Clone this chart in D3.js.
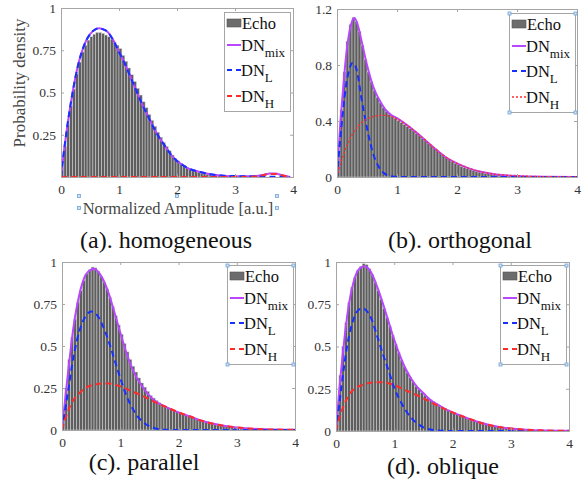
<!DOCTYPE html>
<html>
<head>
<meta charset="utf-8">
<script src="https://cdn.jsdelivr.net/npm/d3@7"></script>
<style>
  body { margin: 0; background: #fff; }
  svg, svg text { font-family: "Liberation Serif", "Times New Roman", serif; }
</style>
</head>
<body>
<div id="chart"></div>
<script>
// bin width of the Echo histograms (a.u.), bins start at 0
const binWidth = 0.05;
const xTicks = [0, 1, 2, 3, 4];
const yTicksA = [0.25, 0.5, 0.75, 1];
const yTicksB = [0, 0.4, 0.8, 1.2];
const yTicksCD = [0, 0.25, 0.5, 0.75, 1];

// (a) homogeneous
const echoA = [0.06,0.18,0.31,0.42,0.52,0.61,0.68,0.74,0.78,0.81,
  0.83,0.845,0.855,0.855,0.85,0.84,0.83,0.815,0.795,0.78,
  0.76,0.72,0.685,0.645,0.605,0.565,0.525,0.485,0.445,0.41,
  0.37,0.335,0.30,0.265,0.235,0.205,0.18,0.155,0.13,0.11,
  0.095,0.08,0.067,0.056,0.047,0.04,0.034,0.028,0.023,0.019,
  0.016,0.013,0.011,0.009,0.008,0.007,0.006,0.005,0.005,0.004,
  0.004,0.004,0.003,0.003,0.003,0.003,0.003,0.003,0.003,0.003];
const mixA = [[0,0],[0.05,0.15],[0.1,0.28],[0.2,0.5],[0.3,0.67],[0.4,0.78],[0.5,0.845],[0.6,0.875],
  [0.66,0.88],[0.75,0.87],[0.8,0.86],[0.9,0.81],[1.0,0.74],[1.1,0.67],[1.2,0.59],[1.3,0.51],[1.4,0.43],
  [1.5,0.36],[1.6,0.29],[1.7,0.23],[1.8,0.18],[1.9,0.13],[2.0,0.095],[2.1,0.07],[2.2,0.05],[2.4,0.03],
  [2.6,0.015],[2.8,0.008],[3.0,0.005],[3.2,0.004],[3.4,0.008],[3.5,0.014],[3.6,0.02],[3.7,0.02],
  [3.8,0.012],[3.9,0.004],[3.95,0]];
const lowA = [[0,0],[0.05,0.15],[0.1,0.28],[0.2,0.5],[0.3,0.67],[0.4,0.78],[0.5,0.845],[0.6,0.875],
  [0.66,0.88],[0.75,0.87],[0.8,0.86],[0.9,0.81],[1.0,0.74],[1.1,0.67],[1.2,0.59],[1.3,0.51],[1.4,0.43],
  [1.5,0.36],[1.6,0.29],[1.7,0.23],[1.8,0.18],[1.9,0.13],[2.0,0.095],[2.1,0.07],[2.2,0.05],[2.4,0.03],
  [2.6,0.015],[2.8,0.008],[3.0,0.005],[3.2,0.004],[3.4,0.003],[3.6,0.002],[3.8,0.001],[3.95,0]];
const highA = [[0,0],[3.2,0],[3.4,0.005],[3.5,0.012],[3.6,0.018],[3.7,0.018],[3.8,0.011],[3.9,0.003],[3.95,0]];

// (b) orthogonal
const echoB = [0.15,0.48,0.75,0.97,1.09,1.14,1.11,1.04,0.94,0.84,
  0.75,0.68,0.62,0.57,0.53,0.495,0.47,0.45,0.435,0.42,
  0.405,0.39,0.375,0.36,0.345,0.33,0.312,0.295,0.277,0.26,
  0.242,0.224,0.205,0.187,0.17,0.153,0.137,0.123,0.11,0.098,
  0.087,0.077,0.068,0.06,0.053,0.046,0.04,0.035,0.031,0.027,
  0.024,0.021,0.018,0.016,0.014,0.012,0.011,0.009,0.008,0.007,
  0.006,0.005,0.005,0.004,0.004,0.003,0.003,0.003,0.002,0.002];
const mixB = [[0,0],[0.05,0.35],[0.1,0.62],[0.15,0.86],[0.2,1.02],[0.25,1.11],[0.29,1.135],[0.35,1.08],
  [0.4,0.99],[0.5,0.8],[0.6,0.65],[0.7,0.555],[0.8,0.485],[0.9,0.445],[1.0,0.42],[1.2,0.36],[1.4,0.29],
  [1.6,0.215],[1.8,0.145],[2.0,0.097],[2.2,0.062],[2.4,0.037],[2.6,0.022],[2.8,0.013],[3.0,0.008],
  [3.5,0.002],[4,0]];
const lowB = [[0,0],[0.05,0.25],[0.1,0.47],[0.15,0.65],[0.2,0.76],[0.26,0.815],[0.3,0.8],[0.35,0.72],
  [0.4,0.58],[0.45,0.46],[0.5,0.35],[0.6,0.17],[0.7,0.07],[0.8,0.022],[0.9,0.006],[1.0,0.001],[1.5,0],[4,0]];
const highB = [[0,0],[0.05,0.08],[0.1,0.15],[0.15,0.21],[0.2,0.26],[0.3,0.335],[0.4,0.385],[0.5,0.415],
  [0.6,0.432],[0.7,0.44],[0.8,0.44],[0.9,0.432],[1.0,0.415],[1.2,0.36],[1.4,0.29],[1.6,0.215],[1.8,0.145],
  [2.0,0.097],[2.2,0.062],[2.4,0.037],[2.6,0.022],[2.8,0.013],[3.0,0.008],[3.5,0.002],[4,0]];

// (c) parallel
const echoC = [0.08,0.25,0.42,0.55,0.66,0.76,0.83,0.89,0.93,0.955,
  0.97,0.965,0.945,0.915,0.88,0.84,0.79,0.735,0.68,0.625,
  0.57,0.515,0.465,0.42,0.38,0.345,0.31,0.28,0.255,0.23,
  0.205,0.19,0.175,0.162,0.148,0.14,0.132,0.124,0.117,0.109,
  0.102,0.095,0.088,0.082,0.076,0.07,0.064,0.058,0.053,0.048,
  0.044,0.04,0.036,0.032,0.029,0.026,0.023,0.021,0.018,0.016,
  0.014,0.013,0.011,0.01,0.009,0.008,0.007,0.006,0.005,0.005];
const mixC = [[0,0],[0.05,0.17],[0.1,0.33],[0.2,0.62],[0.3,0.81],[0.4,0.92],[0.5,0.955],[0.55,0.96],
  [0.6,0.95],[0.7,0.9],[0.8,0.815],[0.9,0.7],[1.0,0.58],[1.1,0.465],[1.2,0.37],[1.3,0.3],[1.4,0.248],
  [1.5,0.205],[1.6,0.172],[1.8,0.135],[2.0,0.105],[2.2,0.08],[2.4,0.055],[2.6,0.037],[2.8,0.024],
  [3.0,0.015],[3.2,0.009],[3.5,0.004],[4,0.001]];
const lowC = [[0,0],[0.05,0.11],[0.1,0.22],[0.2,0.44],[0.3,0.59],[0.4,0.675],[0.5,0.705],[0.6,0.685],
  [0.7,0.62],[0.8,0.53],[0.9,0.42],[1.0,0.31],[1.1,0.21],[1.2,0.135],[1.3,0.08],[1.4,0.045],[1.5,0.022],
  [1.6,0.009],[1.7,0.003],[1.8,0.001],[2.0,0],[4,0]];
const highC = [[0,0],[0.05,0.06],[0.1,0.11],[0.2,0.18],[0.3,0.22],[0.4,0.25],[0.5,0.265],[0.6,0.273],
  [0.7,0.277],[0.8,0.277],[0.9,0.27],[1.0,0.26],[1.2,0.23],[1.4,0.2],[1.6,0.165],[1.8,0.135],[2.0,0.105],
  [2.2,0.08],[2.4,0.055],[2.6,0.037],[2.8,0.024],[3.0,0.015],[3.2,0.009],[3.5,0.004],[4,0.001]];

// (d) oblique
const echoD = [0.12,0.33,0.50,0.64,0.76,0.85,0.91,0.95,0.975,0.99,
  0.985,0.96,0.925,0.88,0.83,0.78,0.725,0.67,0.62,0.565,
  0.515,0.465,0.42,0.38,0.345,0.315,0.29,0.265,0.245,0.228,
  0.212,0.198,0.186,0.174,0.163,0.153,0.143,0.134,0.125,0.116,
  0.108,0.1,0.093,0.086,0.079,0.072,0.066,0.06,0.055,0.05,
  0.045,0.041,0.037,0.033,0.03,0.027,0.024,0.021,0.019,0.017,
  0.015,0.013,0.012,0.01,0.009,0.008,0.007,0.006,0.005,0.005];
const mixD = [[0,0],[0.05,0.22],[0.1,0.4],[0.2,0.7],[0.3,0.88],[0.4,0.96],[0.49,0.975],[0.6,0.94],
  [0.7,0.86],[0.8,0.76],[0.9,0.65],[1.0,0.54],[1.1,0.445],[1.2,0.365],[1.3,0.305],[1.4,0.258],[1.5,0.225],
  [1.6,0.19],[1.8,0.145],[2.0,0.11],[2.2,0.083],[2.4,0.058],[2.6,0.038],[2.8,0.024],[3.0,0.015],
  [3.2,0.009],[3.5,0.004],[4,0.001]];
const lowD = [[0,0],[0.05,0.14],[0.1,0.28],[0.2,0.52],[0.3,0.66],[0.4,0.72],[0.47,0.725],[0.55,0.7],
  [0.6,0.67],[0.7,0.57],[0.8,0.46],[0.9,0.36],[1.0,0.255],[1.1,0.18],[1.2,0.12],[1.3,0.075],[1.4,0.043],
  [1.5,0.022],[1.6,0.01],[1.8,0.002],[2.0,0],[4,0]];
const highD = [[0,0],[0.05,0.07],[0.1,0.12],[0.2,0.2],[0.3,0.245],[0.4,0.265],[0.5,0.278],[0.6,0.285],
  [0.7,0.288],[0.8,0.288],[0.9,0.283],[1.0,0.272],[1.2,0.24],[1.4,0.21],[1.6,0.175],[1.8,0.14],[2.0,0.11],
  [2.2,0.083],[2.4,0.058],[2.6,0.038],[2.8,0.024],[3.0,0.015],[3.2,0.009],[3.5,0.004],[4,0.001]];

const captions = ["(a). homogeneous", "(b). orthogonal", "(c). parallel", "(d). oblique"];

const colors = { echo: "#5e5e5e", mix: "#b847ff", low: "#1530ff", high: "#ff2b2b", axis: "#a6a6a6", text: "#333" };
const FONT = "'Liberation Serif', 'Times New Roman', serif";

const W = 586, H = 491;
const svg = d3.select("#chart").append("svg").attr("width", W).attr("height", H)
  .attr("font-family", FONT);
svg.append("rect").attr("width", W).attr("height", H).attr("fill", "#fff");

const panels = [
  { echo: echoA, mix: mixA, low: lowA, high: highA, yMax: 1, yTicks: yTicksA,
    box: [61, 8, 293, 177], legend: [224, 12], handles: false, highDash: "6,4", highW: 2,
    cap: [166, 248] },
  { echo: echoB, mix: mixB, low: lowB, high: highB, yMax: 1.2, yTicks: yTicksB,
    box: [337, 9, 577, 177], legend: [509, 13], handles: true, highDash: "2,2", highW: 1.4,
    cap: [460, 248] },
  { echo: echoC, mix: mixC, low: lowC, high: highC, yMax: 1, yTicks: yTicksCD,
    box: [62, 262, 295, 430], legend: [227, 265], handles: true, highDash: "6,4", highW: 2,
    cap: [144, 470] },
  { echo: echoD, mix: mixD, low: lowD, high: highD, yMax: 1, yTicks: yTicksCD,
    box: [336, 262, 569, 431], legend: [500, 265], handles: true, highDash: "6,4", highW: 2,
    cap: [443, 474] }
];

function handle(g, x, y) {
  g.append("rect").attr("x", x - 1.5).attr("y", y - 1.5).attr("width", 3).attr("height", 3)
    .attr("fill", "#cfe2f5").attr("stroke", "#6fa3d8").attr("stroke-width", 0.8);
}

panels.forEach((p, i) => {
  const [x0, y0, x1, y1] = p.box;
  const x = d3.scaleLinear().domain([0, 4]).range([x0, x1]);
  const y = d3.scaleLinear().domain([0, p.yMax]).range([y1, y0]);
  const g = svg.append("g");
  const clipId = "clip" + i;
  g.append("clipPath").attr("id", clipId).append("rect")
    .attr("x", x0).attr("y", y0 - 2).attr("width", x1 - x0).attr("height", y1 - y0 + 2);

  // histogram
  g.append("g").attr("clip-path", `url(#${clipId})`)
    .selectAll("rect").data(p.echo).join("rect")
    .attr("x", (d, k) => x(k * binWidth))
    .attr("width", (d, k) => x((k + 1) * binWidth) - x(k * binWidth))
    .attr("y", d => y(d))
    .attr("height", d => y(0) - y(d))
    .attr("fill", colors.echo)
    .attr("stroke", "#d8d8d8")
    .attr("stroke-width", 0.5);

  const line = d3.line().x(d => x(d[0])).y(d => y(d[1])).curve(d3.curveMonotoneX);
  const curves = g.append("g").attr("clip-path", `url(#${clipId})`).attr("fill", "none");
  curves.append("path").attr("d", line(p.mix)).attr("stroke", colors.mix).attr("stroke-width", 2);
  curves.append("path").attr("d", line(p.low)).attr("stroke", colors.low).attr("stroke-width", 2)
    .attr("stroke-dasharray", "6,4");
  curves.append("path").attr("d", line(p.high)).attr("stroke", colors.high).attr("stroke-width", p.highW)
    .attr("stroke-dasharray", p.highDash);

  // axes (MATLAB style box, inward ticks)
  const axB = g.append("g").attr("transform", `translate(0,${y1})`)
    .call(d3.axisBottom(x).tickValues(xTicks).tickFormat(d => d).tickSizeInner(-3).tickSizeOuter(0).tickPadding(7));
  const axL = g.append("g").attr("transform", `translate(${x0},0)`)
    .call(d3.axisLeft(y).tickValues(p.yTicks).tickFormat(d => d).tickSizeInner(-3).tickSizeOuter(0).tickPadding(5));
  const axT = g.append("g").attr("transform", `translate(0,${y0})`)
    .call(d3.axisTop(x).tickValues(xTicks).tickFormat("").tickSizeInner(-3).tickSizeOuter(0));
  const axR = g.append("g").attr("transform", `translate(${x1},0)`)
    .call(d3.axisRight(y).tickValues(p.yTicks).tickFormat("").tickSizeInner(-3).tickSizeOuter(0));
  [axB, axL, axT, axR].forEach(a => {
    a.attr("font-family", FONT).attr("font-size", 13.5);
    a.select(".domain").remove();
    a.selectAll("line").attr("stroke", colors.axis);
    a.selectAll("text").attr("fill", colors.text);
  });
  g.append("rect").attr("x", x0 + 0.5).attr("y", y0 + 0.5).attr("width", x1 - x0).attr("height", y1 - y0)
    .attr("fill", "none").attr("stroke", colors.axis).attr("stroke-width", 1);

  // legend
  const [lx, ly] = p.legend;
  const lg = g.append("g").attr("transform", `translate(${lx},${ly})`);
  lg.append("rect").attr("x", 0.5).attr("y", 0.5).attr("width", 66).attr("height", 99)
    .attr("fill", "#fff").attr("stroke", colors.axis);
  lg.append("rect").attr("x", 3).attr("y", 7).attr("width", 14).attr("height", 8)
    .attr("fill", "#6c6c6c").attr("stroke", "#555").attr("stroke-width", 0.6);
  lg.append("text").attr("x", 18).attr("y", 16.5).attr("font-size", 16.5).attr("fill", "#111").text("Echo");
  const entries = [
    { y: 33, color: colors.mix, dash: null, w: 2, sub: "mix" },
    { y: 58, color: colors.low, dash: "5,4", w: 2, sub: "L" },
    { y: 84, color: colors.high, dash: p.highDash === "2,2" ? "2,2" : "5,4", w: p.highW, sub: "H" }
  ];
  entries.forEach(e => {
    lg.append("line").attr("x1", 3).attr("x2", 17).attr("y1", e.y).attr("y2", e.y)
      .attr("stroke", e.color).attr("stroke-width", e.w).attr("stroke-dasharray", e.dash);
    const t = lg.append("text").attr("x", 17).attr("y", e.y + 5.5).attr("font-size", 16.5).attr("fill", "#111");
    t.append("tspan").text("DN");
    t.append("tspan").attr("dy", 6).attr("font-size", 13).text(e.sub);
  });
  if (p.handles) {
    [[0.5, 0.5], [66.5, 0.5], [0.5, 99.5], [66.5, 99.5]].forEach(c => handle(lg, c[0], c[1]));
  }

  // caption
  svg.append("text").attr("x", p.cap[0]).attr("y", p.cap[1]).attr("text-anchor", "middle")
    .attr("font-size", 24).attr("fill", "#111").text(captions[i]);
});

// axis titles of panel (a)
svg.append("text").attr("transform", "translate(25,83) rotate(-90)").attr("text-anchor", "middle")
  .attr("font-size", 17).attr("fill", "#444").text("Probability density");
svg.append("text").attr("x", 178).attr("y", 214).attr("text-anchor", "middle")
  .attr("font-size", 16.5).attr("fill", "#444").text("Normalized Amplitude [a.u.]");
[[79, 196], [79, 208], [177, 196], [277, 196], [277, 208]].forEach(c => handle(svg, c[0], c[1]));
</script>
</body>
</html>
